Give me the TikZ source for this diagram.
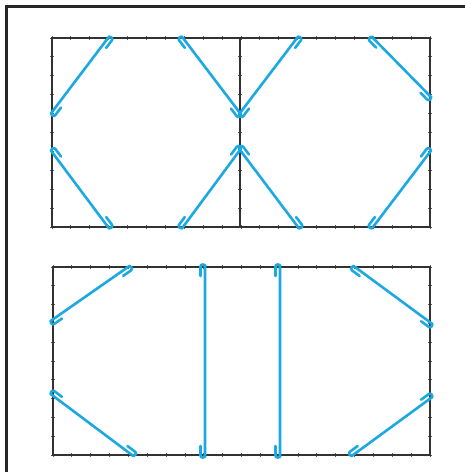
\documentclass[tikz,border=0pt]{standalone}
\usetikzlibrary{calc}
\definecolor{raycol}{RGB}{28,168,224}
\definecolor{wallcol}{RGB}{50,50,50}
\tikzset{
 ray/.style={draw=raycol, line width=2.6pt, rounded corners=2pt, line cap=round, line join=round},
 wall/.style={draw=wallcol, line width=1.8pt},
 tickmark/.style={draw=wallcol!80, line width=0.9pt},
 frameline/.style={draw=black!85, line width=3pt}
}
\newcommand\hkL{9pt}
\newcommand\hkW{4.5pt}
\newcommand\hkR{2.5pt}
\newcommand\seg[2]{\draw[ray] let \p1=(#1),\p2=(#2),\n1={veclen(\x2-\x1,\y2-\y1)},\n2={(\x2-\x1)/\n1},\n3={(\y2-\y1)/\n1} in
 ({\x1+\n2*\hkL+\n3*\hkW},{\y1+\n3*\hkL-\n2*\hkW}) -- ({\x1-\n2*\hkR+\n3*\hkW},{\y1-\n3*\hkR-\n2*\hkW}) -- ({\x1-\n2*\hkR},{\y1-\n3*\hkR}) -- (\p1) -- (\p2) -- ({\x2+\n2*\hkR},{\y2+\n3*\hkR}) -- ({\x2+\n2*\hkR+\n3*\hkW},{\y2+\n3*\hkR-\n2*\hkW}) -- ({\x2-\n2*\hkL+\n3*\hkW},{\y2-\n3*\hkL-\n2*\hkW});}
\begin{document}
\begin{tikzpicture}[x=1pt,y=-1pt]
\fill[white] (0,0) rectangle (465,472);
\useasboundingbox (0,0) rectangle (465,472);
% frame
\coordinate (fb) at (6,472);
\coordinate (fc) at (6,6);
\coordinate (fr) at (465,6);
\draw[frameline] (fb) -- (fc) -- (fr);
% walls
\coordinate (T1) at (52,38);
\coordinate (T2) at (430,227);
\coordinate (M1) at (240,38);
\coordinate (M2) at (240,227);
\coordinate (B1) at (53,267);
\coordinate (B2) at (430,455);
\foreach \i in {0,...,20} {
  \draw[tickmark] ({52+\i*18.9},36) -- ({52+\i*18.9},40);
  \draw[tickmark] ({52+\i*18.9},225) -- ({52+\i*18.9},229);
  \draw[tickmark] ({53+\i*18.85},265) -- ({53+\i*18.85},269);
  \draw[tickmark] ({53+\i*18.85},453) -- ({53+\i*18.85},457);
}
\foreach \j in {0,...,10} {
  \draw[tickmark] (50,{38+\j*18.9}) -- (54,{38+\j*18.9});
  \draw[tickmark] (238,{38+\j*18.9}) -- (242,{38+\j*18.9});
  \draw[tickmark] (428,{38+\j*18.9}) -- (432,{38+\j*18.9});
  \draw[tickmark] (51,{267+\j*18.8}) -- (55,{267+\j*18.8});
  \draw[tickmark] (428,{267+\j*18.8}) -- (432,{267+\j*18.8});
}
\draw[wall] (T1) rectangle (T2);
\draw[wall] (M1) -- (M2);
\draw[wall] (B1) rectangle (B2);
% top-left square
\coordinate (a1) at (52,112);
\coordinate (a2) at (108,38);
\coordinate (a3) at (183,38);
\coordinate (a4) at (240,113);
\coordinate (a5) at (240,150);
\coordinate (a6) at (183,227);
\coordinate (a7) at (108,227);
\coordinate (a8) at (52,152);
\seg{a1}{a2}
\seg{a3}{a4}
\seg{a5}{a6}
\seg{a7}{a8}
% top-right square
\coordinate (b1) at (240,113);
\coordinate (b2) at (297,38);
\coordinate (b3) at (373,38);
\coordinate (b4) at (430,96);
\coordinate (b5) at (430,152);
\coordinate (b6) at (373,227);
\coordinate (b7) at (298,227);
\coordinate (b8) at (240,150);
\seg{b1}{b2}
\seg{b3}{b4}
\seg{b5}{b6}
\seg{b7}{b8}
% bottom rectangle
\coordinate (c1) at (52,320);
\coordinate (c2) at (128,267);
\coordinate (v1) at (205,267);
\coordinate (v2) at (205,455);
\coordinate (w1) at (280,267);
\coordinate (w2) at (280,455);
\coordinate (d1) at (355,267);
\coordinate (d2) at (431,323);
\coordinate (d3) at (431,398);
\coordinate (d4) at (353,455);
\coordinate (e1) at (132,455);
\coordinate (e2) at (52,395);
\seg{c1}{c2}
\seg{v1}{v2}
\seg{w1}{w2}
\seg{d1}{d2}
\seg{d3}{d4}
\seg{e1}{e2}
\end{tikzpicture}
\end{document}
